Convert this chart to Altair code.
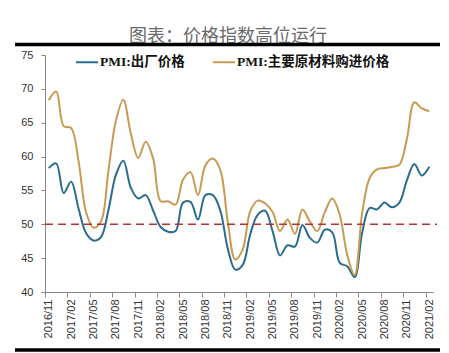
import altair as alt
import pandas as pd

months = [
    "2016/11", "2016/12", "2017/01", "2017/02", "2017/03", "2017/04", "2017/05", "2017/06",
    "2017/07", "2017/08", "2017/09", "2017/10", "2017/11", "2017/12", "2018/01", "2018/02",
    "2018/03", "2018/04", "2018/05", "2018/06", "2018/07", "2018/08", "2018/09", "2018/10",
    "2018/11", "2018/12", "2019/01", "2019/02", "2019/03", "2019/04", "2019/05", "2019/06",
    "2019/07", "2019/08", "2019/09", "2019/10", "2019/11", "2019/12", "2020/01", "2020/02",
    "2020/03", "2020/04", "2020/05", "2020/06", "2020/07", "2020/08", "2020/09", "2020/10",
    "2020/11", "2020/12", "2021/01", "2021/02",
]

output_price = [
    58.3, 59.0, 54.6, 56.3, 52.3, 48.7, 47.6, 48.1, 52.1, 57.3, 59.4, 55.4,
    53.8, 54.3, 52.0, 49.6, 48.9, 49.0, 53.2, 53.3, 50.7, 54.3, 54.3, 52.0,
    46.4, 43.3, 44.0, 48.5, 51.4, 52.0, 49.0, 45.4, 46.9, 46.7, 49.9, 48.0,
    47.3, 49.2, 48.8, 44.3, 43.8, 42.2, 48.7, 52.4, 52.2, 53.2, 52.5, 53.2,
    56.5, 58.9, 57.2, 58.5,
]

input_price = [
    68.3, 69.6, 64.5, 64.2, 59.3, 51.8, 49.5, 50.4, 57.9, 65.3, 68.4, 63.4,
    59.8, 62.2, 59.7, 53.4, 53.4, 52.9, 56.6, 57.7, 54.3, 58.7, 59.7, 58.0,
    50.3, 44.8, 46.3, 51.9, 53.5, 53.1, 51.8, 49.0, 50.7, 48.6, 52.2, 50.4,
    49.0, 51.8, 53.8, 51.4, 45.5, 42.5, 51.6, 56.8, 58.1, 58.3, 58.5, 58.8,
    62.6, 68.0, 67.1, 66.7,
]

series_names = ["PMI:出厂价格", "PMI:主要原材料购进价格"]
series_colors = ["#2B6C8C", "#C99A52"]
title_text = "图表：价格指数高位运行"
y_ticks = [40, 45, 50, 55, 60, 65, 70, 75]
x_tick_positions = [i - 0.5 for i in range(0, 52, 3)]
reference_level = [50]

rows = []
for i, m in enumerate(months):
    rows.append({"idx": i, "month": m, "series": series_names[0], "value": output_price[i]})
    rows.append({"idx": i, "month": m, "series": series_names[1], "value": input_price[i]})
df = pd.DataFrame(rows)

label_array = "[" + ",".join("'" + m + "'" for m in months) + "]"
label_expr = label_array + "[round(datum.value + 0.5)]"

W, H = 388, 237

x_scale = alt.Scale(domain=[-0.5, 51.5], nice=False, zero=False)
y_scale = alt.Scale(domain=[40, 75], nice=False, zero=False)

y_axis = alt.Axis(values=y_ticks, title=None, grid=False, tickSize=4,
                  tickColor="#888888", domainColor="#888888", labelColor="#333333",
                  labelFontSize=11, labelFont="Liberation Sans", labelPadding=8,
                  labelOverlap=False)

lines = alt.Chart(df).mark_line(strokeWidth=2, interpolate="catmull-rom").encode(
    x=alt.X("idx:Q", scale=x_scale,
            axis=alt.Axis(values=x_tick_positions, labelExpr=label_expr, title=None,
                          grid=False, labelAngle=-90, labelAlign="right", labelBaseline="middle",
                          labelOffset=3.7, labelPadding=2, tickSize=5, tickColor="#888888",
                          domainColor="#888888", labelColor="#333333", labelFontSize=11,
                          labelFont="Liberation Sans", labelOverlap=False)),
    y=alt.Y("value:Q", scale=y_scale, axis=y_axis),
    color=alt.Color("series:N",
                    scale=alt.Scale(domain=series_names, range=series_colors),
                    legend=alt.Legend(title=None, orient="none", legendX=30, legendY=-5,
                                      direction="horizontal", symbolType="stroke",
                                      symbolSize=484, symbolStrokeWidth=2,
                                      labelFont="Liberation Serif, Noto Sans CJK SC",
                                      labelFontWeight="bold", labelFontSize=13.5,
                                      labelColor="#111111", labelOffset=1,
                                      columnPadding=24, padding=0)),
    detail="series:N",
)

ref = alt.Chart(pd.DataFrame({"y": reference_level})).mark_rule(
    color="#B23434", strokeDash=[8, 5], strokeWidth=1.6
).encode(y=alt.Y("y:Q", scale=y_scale, axis=y_axis), x=alt.value(0), x2=alt.value(392))

title = alt.Chart(pd.DataFrame({"t": [title_text]})).mark_text(
    font="Noto Sans CJK SC", fontSize=18, color="#6a6a6a", align="center", baseline="alphabetic"
).encode(text="t:N", x=alt.value(183), y=alt.value(-13))

top_bar = alt.Chart(pd.DataFrame({"k": [0]})).mark_rule(color="#000000", strokeWidth=3.5).encode(
    x=alt.value(-30), x2=alt.value(395), y=alt.value(-10.5))
bottom_bar = alt.Chart(pd.DataFrame({"k": [0]})).mark_rule(color="#000000", strokeWidth=3.5).encode(
    x=alt.value(-30), x2=alt.value(395), y=alt.value(295))

chart = alt.layer(lines, ref, title, top_bar, bottom_bar).properties(
    width=W, height=H,
    autosize=alt.AutoSizeParams(type="none"),
    padding={"left": 45, "top": 55, "right": 16, "bottom": 61},
    background="white",
).configure_view(stroke=None)

chart.save("out.html", embed_options={"renderer": "svg", "actions": False})
